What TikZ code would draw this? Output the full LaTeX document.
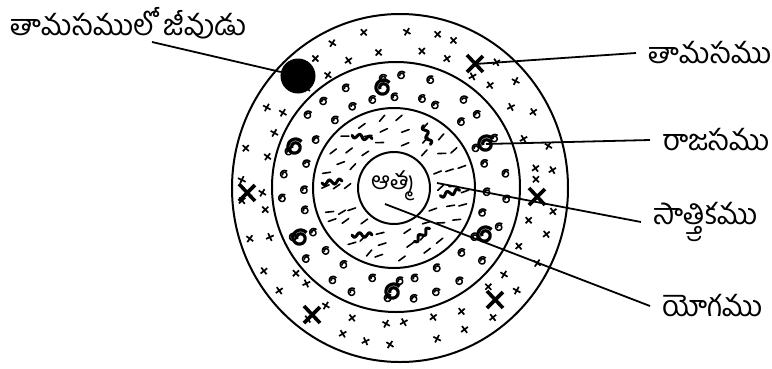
\documentclass[tikz,border=0pt]{standalone}
\usepackage{fontspec}
\newfontfamily\telugu[Script=Telugu]{Hind Guntur}
\begin{document}
\begin{tikzpicture}[x=1pt,y=-1pt,
  ring/.style={line width=2pt},
  conn/.style={line width=1.8pt},
  lblfont/.style={font=\telugu\fontsize{29}{33}\selectfont},
  lbl/.style={lblfont, inner ysep=0pt, inner xsep=12pt, anchor=west},
  smallx/.pic={\draw[line width=1.7pt] (-3,-3) -- (3,3) (-3,3) -- (3,-3);},
  bigx/.pic={\draw[line width=3.6pt] (-8,-9) -- (8,8) (-8,8) -- (8,-8);},
  curl/.pic={\draw plot[domain=40:560, samples=40, smooth]
      ({(1-0.65*(\x-40)/520)*cos(\x)}, {-(1-0.65*(\x-40)/520)*sin(\x)});},
  squig/.pic={\draw[line width=3pt, line cap=round] plot[domain=0:20, samples=30, smooth] (\x-10, {2.2*sin(\x*36)});},
  dash/.pic={\draw[line width=1.6pt, line cap=round] (-4,0) -- (4,0);}
]
\useasboundingbox (0,0) rectangle (772,368);

% rings
\draw[ring] (400,188) ellipse [x radius=168, y radius=174];
\draw[ring] (396,187) ellipse [x radius=124, y radius=125];
\draw[ring] (394,188) ellipse [x radius=81, y radius=80];
\draw[ring] (394,188) circle [radius=36];

% outer ring: small x marks
\begin{scope}[shift={(399,188)}]
\pgfmathsetseed{3}
\foreach \i in {0,...,29}{
  \pgfmathsetmacro\a{\i*12 + rand*4}
  \pgfmathsetmacro\r{136+rand*3}
  \pic[rotate=rand*20] at (\a:\r) {smallx};
  \pgfmathsetmacro\b{\i*12 + 6 + rand*4}
  \pgfmathsetmacro\s{157+rand*3}
  \pic[rotate=rand*20] at (\b:\s) {smallx};
}
\end{scope}

% middle ring: small curls
\begin{scope}[shift={(395,188)}]
\pgfmathsetseed{11}
\foreach \i in {0,...,23}{
  \pgfmathsetmacro\a{\i*15 + rand*4}
  \pgfmathsetmacro\r{92+rand*2}
  \pic[scale=4.3, line width=1.5pt, rotate=rand*15] at (\a:\r) {curl};
  \pgfmathsetmacro\b{\i*15 + 7 + rand*4}
  \pgfmathsetmacro\s{112+rand*2}
  \pic[scale=4.3, line width=1.5pt, rotate=rand*15] at (\b:\s) {curl};
}
\end{scope}

% inner ring: dashes
\begin{scope}[shift={(394,188)}]
\pgfmathsetseed{5}
\foreach \n/\r in {14/46, 18/58, 22/70}{
  \foreach \i in {1,...,\n}{
    \pgfmathsetmacro\a{\i*360/\n + rand*6}
    \pic[rotate=25+rand*25] at (\a:\r+rand*2) {dash};
  }
}
\end{scope}

% big X marks
\coordinate (xa) at (475,64);
\pic at (xa) {bigx};
\pic at (247,193) {bigx};
\pic at (537,197) {bigx};
\pic at (312,315) {bigx};
\pic at (495,300) {bigx};

% big curls
\coordinate (ga) at (486,144);
\foreach \p in {(383,88),(295,147),(486,144),(300,238),(485,235),(393,292)}
  \pic[scale=8.5, line width=3.2pt] at \p {curl};

% squiggles
\foreach \p/\ang in {(362,137)/-10,(427,135)/-70,(332,182)/5,(450,193)/15,(362,235)/0,(422,235)/40}
  \pic[rotate=\ang] at \p {squig};

% soul (dot)
\node[circle, fill=black, minimum size=35pt, inner sep=0pt] (dot) at (298,76) {};

% centre text
\node[font=\telugu\fontsize{24.5}{27}\selectfont, inner sep=0pt] (atma) at (393,186) {ఆత్మ};

% labels
\node[lblfont, inner sep=0pt, anchor=west] (jiva) at (10,23) {తామసములో జీవుడు};
\node[lbl] (tamasa) at (636,53) {తామసము};
\node[lbl] (rajasa) at (650,140) {రాజసము};
\node[lbl] (satvika) at (641,222) {సాత్త్వికము};
\node[lbl] (yoga) at (650,306) {యోగము};

\coordinate (jivaend) at (152,42);
\coordinate (satpt) at (437,183);
\coordinate (yogpt) at (385,204);

\draw[conn] (jivaend) -- (dot);
\draw[conn] (xa) -- (tamasa.west);
\draw[conn] (ga) -- (rajasa.west);
\draw[conn] (satpt) -- (satvika.west);
\draw[conn] (yogpt) -- (yoga.west);
\end{tikzpicture}
\end{document}
